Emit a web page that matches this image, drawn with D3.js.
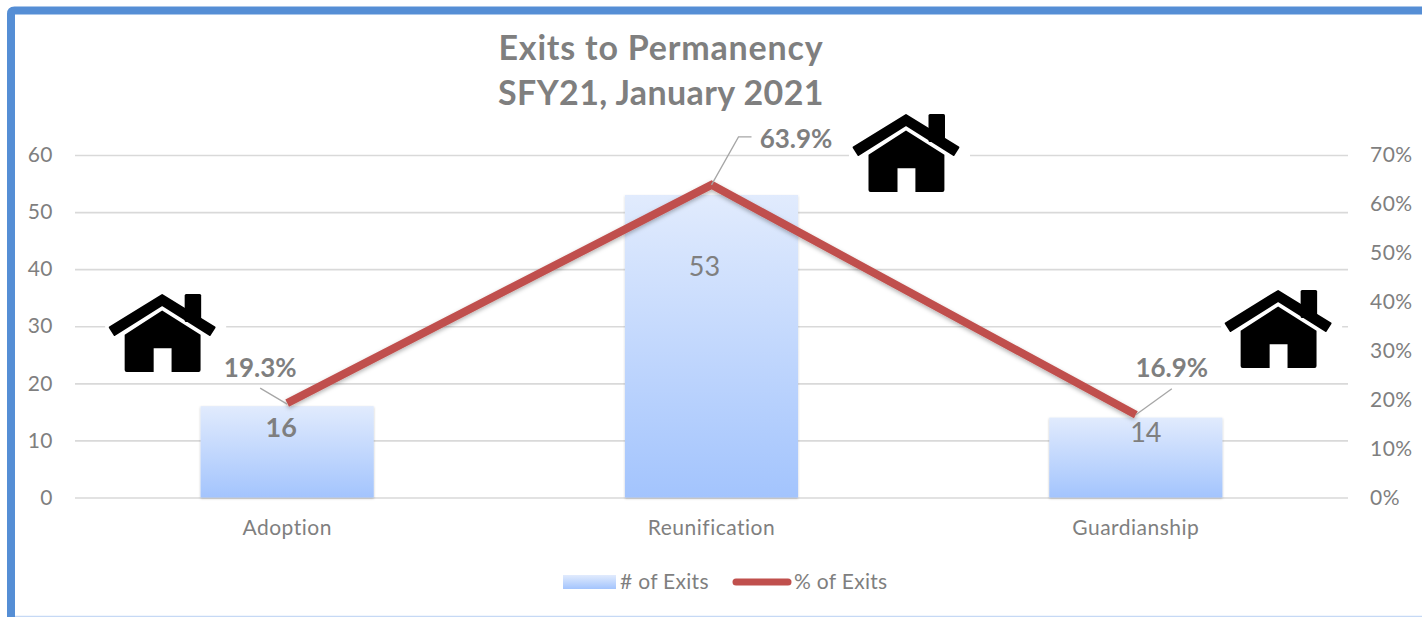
<!DOCTYPE html>
<html>
<head>
<meta charset="utf-8">
<script src="https://d3js.org/d3.v7.min.js"></script>
<style>
    body { margin: 0; background: #fff; }
    text { fill: #7f7f7f; font-family: Lato, sans-serif; }
    .grid line { stroke: #d9d9d9; stroke-width: 1.6px; }
    .tick text { font-size: 21px; letter-spacing: 0.5px; }
    .domain { display: none; }
    .leader { fill: none; stroke: #a6a6a6; stroke-width: 1.3px; }
</style>
</head>
<body>
<div id="chart"></div>
<script>
// Values
const categories = ["Adoption", "Reunification", "Guardianship"];
const exitCounts = [16, 53, 14];
const exitPercents = [19.3, 63.9, 16.9];
const leftTicks = [0, 10, 20, 30, 40, 50, 60];
const rightTicks = [0, 10, 20, 30, 40, 50, 60, 70];
const titleLines = ["Exits to Permanency", "SFY21, January 2021"];
const legendLabels = ["# of Exits", "% of Exits"];

const width = 1422, height = 617;
const plot = { left: 75, right: 1348, top: 155, bottom: 497.5 };

const svg = d3.select("#chart").append("svg")
    .attr("width", width)
    .attr("height", height)
    .style("display", "block");

const defs = svg.append("defs");

const grad = defs.append("linearGradient")
    .attr("id", "barFill")
    .attr("x1", 0).attr("y1", 0).attr("x2", 0).attr("y2", 1);
grad.append("stop").attr("offset", "0%").attr("stop-color", "#e1ebfd");
grad.append("stop").attr("offset", "100%").attr("stop-color", "#a3c4fd");

const barShadow = defs.append("filter").attr("id", "barShadow")
    .attr("x", "-5%").attr("y", "-5%").attr("width", "110%").attr("height", "110%");
barShadow.append("feDropShadow")
    .attr("dx", 0).attr("dy", 1).attr("stdDeviation", 1)
    .attr("flood-color", "#000").attr("flood-opacity", 0.25);

const lineShadow = defs.append("filter").attr("id", "lineShadow")
    .attr("x", "-5%").attr("y", "-10%").attr("width", "110%").attr("height", "120%");
lineShadow.append("feDropShadow")
    .attr("dx", 0).attr("dy", 2).attr("stdDeviation", 2)
    .attr("flood-color", "#000").attr("flood-opacity", 0.3);

// Frame around the chart, open on the right and the bottom
svg.append("path")
    .attr("d", "M11,617 V14 Q11,10.5 14.5,10.5 H1422")
    .attr("fill", "none")
    .attr("stroke", "#558ed5")
    .attr("stroke-width", 8);
svg.append("line")
    .attr("x1", 15).attr("x2", width)
    .attr("y1", 616.5).attr("y2", 616.5)
    .attr("stroke", "#c6d9f5")
    .attr("stroke-width", 1.5);

// Scales
const x = d3.scaleBand()
    .domain(categories)
    .range([plot.left, plot.right])
    .paddingInner(0.592)
    .paddingOuter(0.296);
const yCount = d3.scaleLinear().domain([0, 60]).range([plot.bottom, plot.top]);
const yPercent = d3.scaleLinear().domain([0, 70]).range([plot.bottom, plot.top]);
const center = c => x(c) + x.bandwidth() / 2;

// Left axis carries the gridlines
const leftAxis = svg.append("g")
    .attr("class", "grid")
    .attr("transform", `translate(${plot.left},0)`)
    .call(d3.axisLeft(yCount).tickValues(leftTicks)
        .tickSize(plot.left - plot.right).tickPadding(0));
leftAxis.selectAll("text").attr("x", -22);

const rightAxis = svg.append("g")
    .attr("transform", `translate(${plot.right},0)`)
    .call(d3.axisRight(yPercent).tickValues(rightTicks)
        .tickSize(0).tickFormat(d => d + "%"));
rightAxis.selectAll("text").attr("x", 22);

const bottomAxis = svg.append("g")
    .attr("transform", `translate(0,${plot.bottom})`)
    .call(d3.axisBottom(x).tickSize(0));
bottomAxis.selectAll("text").attr("y", 23);

// House pictures, each with a white box that cuts the gridline
const houses = [
    { cat: "Adoption", dx: -125, top: 294 },
    { cat: "Reunification", dx: 194.5, top: 114 },
    { cat: "Guardianship", dx: 142.3, top: 290 }
];
const house = svg.selectAll(".house")
    .data(houses)
    .enter().append("g")
    .attr("class", "house")
    .attr("transform", d => `translate(${center(d.cat) + d.dx},${d.top})`);
house.append("rect")
    .attr("x", -57).attr("y", -2)
    .attr("width", 121).attr("height", 84)
    .attr("fill", "#fff");
house.append("rect")
    .attr("x", 22.5).attr("y", 0)
    .attr("width", 16.5).attr("height", 28)
    .attr("rx", 1.5)
    .attr("fill", "#000");
house.append("path")
    .attr("d", "M0,1 L52.4,33.4 L47.6,41 L0,11 L-47.6,41 L-52.4,33.4 Z")
    .attr("fill", "#000")
    .attr("stroke", "#000")
    .attr("stroke-width", 2)
    .attr("stroke-linejoin", "round");
house.append("path")
    .attr("d", "M0,16.5 L38.4,40.7 V76 Q38.4,78 36.4,78 H9.4 V54.3 H-8.5 V78 H-35.5 Q-37.5,78 -37.5,76 V40.7 Z")
    .attr("fill", "#000");

// Bars
svg.selectAll(".bar")
    .data(categories)
    .enter().append("rect")
    .attr("class", "bar")
    .attr("x", d => x(d))
    .attr("y", (d, i) => yCount(exitCounts[i]))
    .attr("width", x.bandwidth())
    .attr("height", (d, i) => plot.bottom - yCount(exitCounts[i]))
    .attr("fill", "url(#barFill)")
    .attr("filter", "url(#barShadow)");

// Percent line
const line = d3.line()
    .x(d => center(d))
    .y((d, i) => yPercent(exitPercents[i]));
svg.append("path")
    .datum(categories)
    .attr("d", line)
    .attr("fill", "none")
    .attr("stroke", "#c0504d")
    .attr("stroke-width", 8)
    .attr("stroke-linejoin", "miter")
    .attr("filter", "url(#lineShadow)");

// Bar labels, nudged by hand as in the original
const countOffsets = [
    { dx: -6, dy: 31, weight: 700 },
    { dx: -7, dy: 81, weight: 400 },
    { dx: 10, dy: 24, weight: 400 }
];
svg.selectAll(".count")
    .data(exitCounts)
    .enter().append("text")
    .attr("class", "count")
    .attr("x", (d, i) => center(categories[i]) + countOffsets[i].dx)
    .attr("y", d => yCount(d))
    .attr("dy", (d, i) => countOffsets[i].dy)
    .attr("text-anchor", "middle")
    .style("font-size", "27px")
    .style("font-weight", (d, i) => countOffsets[i].weight)
    .text(d => d);

// Percent labels and their leader lines
const percentOffsets = [
    { dx: -27, dy: -26, leader: [[-27, -15], [0, 1]] },
    { dx: 84.5, dy: -37, leader: [[40, -48], [27, -48], [0, 0]] },
    { dx: 36, dy: -38, leader: [[36, -26], [0, 0]] }
];
svg.selectAll(".percent")
    .data(exitPercents)
    .enter().append("text")
    .attr("class", "percent")
    .attr("x", (d, i) => center(categories[i]) + percentOffsets[i].dx)
    .attr("y", d => yPercent(d))
    .attr("dy", (d, i) => percentOffsets[i].dy)
    .attr("text-anchor", "middle")
    .style("font-size", "26px")
    .style("font-weight", 700)
    .text(d => d.toFixed(1) + "%");
svg.selectAll(".leader")
    .data(exitPercents)
    .enter().append("path")
    .attr("class", "leader")
    .attr("d", (d, i) => d3.line()(percentOffsets[i].leader
        .map(p => [center(categories[i]) + p[0], yPercent(d) + p[1]])));

// Title, second line sits a little tighter
svg.selectAll(".title")
    .data(titleLines)
    .enter().append("text")
    .attr("class", "title")
    .attr("x", 661)
    .attr("y", (d, i) => 60 + i * 45)
    .attr("text-anchor", "middle")
    .style("font-size", "34px")
    .style("letter-spacing", (d, i) => i === 0 ? "0.8px" : "0.4px")
    .style("font-weight", 700)
    .text(d => d);

// Legend
const legend = svg.append("g");
legend.append("rect")
    .attr("x", 563).attr("y", 575)
    .attr("width", 53).attr("height", 14)
    .attr("fill", "url(#barFill)");
legend.append("line")
    .attr("x1", 736).attr("x2", 788)
    .attr("y1", 582).attr("y2", 582)
    .attr("stroke", "#c0504d")
    .attr("stroke-width", 7)
    .attr("stroke-linecap", "round");
legend.selectAll("text")
    .data(legendLabels)
    .enter().append("text")
    .attr("x", (d, i) => i === 0 ? 620 : 794)
    .attr("y", 589)
    .style("font-size", "21px")
    .style("letter-spacing", "0.3px")
    .text(d => d);
</script>
</body>
</html>
